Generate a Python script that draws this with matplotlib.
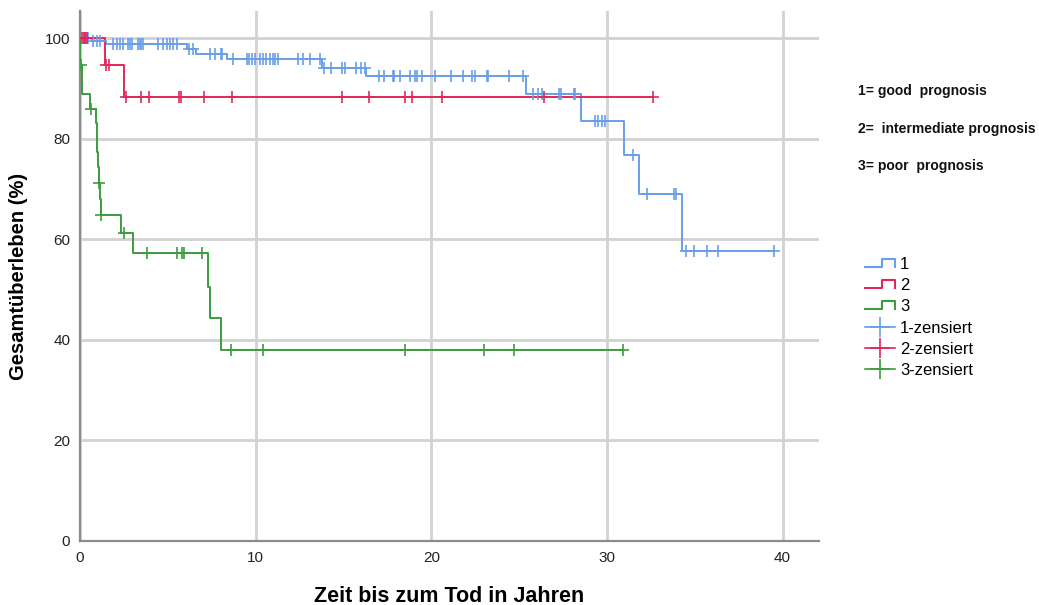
import numpy as np
import matplotlib
matplotlib.use("Agg")
import matplotlib.pyplot as plt
from matplotlib.legend_handler import HandlerBase
from matplotlib.lines import Line2D

# Kaplan-Meier steps (years, survival %) and censored times per prognosis group
good_times = [0, 0.67, 1.5, 6.07, 6.6, 8.35, 13.75, 16.3, 25.4, 28.55, 30.96, 31.8, 34.3]
good_surv = [100, 99.5, 98.8, 97.8, 96.8, 95.8, 94.0, 92.4, 88.9, 83.6, 76.7, 69.1, 57.6]
good_censored = [0.2, 0.35, 0.45, 0.76, 0.95, 1.14,
                 1.9, 2.1, 2.28, 2.46, 2.75, 2.84, 2.94, 3.3, 3.4, 3.5, 3.6,
                 4.46, 4.74, 4.93, 5.12, 5.3, 5.5, 6.2, 6.45, 7.4, 7.7, 8.0, 8.1,
                 8.7, 9.5, 9.63, 9.77, 9.96, 10.24, 10.4, 10.6, 10.8, 11.0, 11.1, 11.3,
                 12.4, 12.7, 13.1, 13.66, 13.9, 14.3, 14.9, 15.1, 15.7, 16.0, 16.2,
                 17.0, 17.3, 17.8, 17.9, 18.2, 18.8, 19.1, 19.2, 19.5, 20.2, 21.1, 21.8,
                 22.3, 22.5, 23.15, 23.25, 24.4, 25.2, 25.8, 26.1, 26.3, 27.3, 27.4,
                 28.1, 28.2, 29.3, 29.5, 29.7, 29.9, 31.5, 32.3, 33.8, 33.95,
                 34.5, 34.95, 35.7, 36.3, 39.5]

mid_times = [0, 1.42, 2.52]
mid_surv = [100, 94.7, 88.3]
mid_censored = [0.1, 0.2, 0.3, 0.4, 1.5, 1.67, 2.6, 3.47, 3.94, 5.65, 5.74, 7.07,
                8.68, 14.9, 16.45, 18.5, 18.9, 20.6, 26.4, 32.6]

poor_times = [0, 0.02, 0.12, 0.55, 0.91, 0.95, 0.99, 1.03, 1.06, 1.13, 1.17,
              2.31, 3.0, 7.3, 7.38, 8.02]
poor_surv = [100, 94.6, 88.9, 86.0, 83.1, 80.2, 77.3, 74.4, 71.2, 68.0, 64.8,
             61.2, 57.2, 50.6, 44.4, 37.9]
poor_censored = [0.08, 0.6, 1.1, 1.2, 2.5, 3.8, 5.5, 5.78, 5.9, 6.96, 8.6, 10.4,
                 18.5, 23.0, 24.7, 30.9]

group_labels = ["1", "2", "3"]
group_notes = ["1= good  prognosis", "2=  intermediate prognosis", "3= poor  prognosis"]
colors = ["#679fe8", "#e0285a", "#3d9c3d"]

plt.rcParams["font.family"] = ["Liberation Sans", "DejaVu Sans"]


class StepHandler(HandlerBase):
    # legend glyph shaped like a small survival step
    def create_artists(self, legend, orig_handle, xdescent, ydescent,
                       width, height, fontsize, trans):
        x0 = -xdescent
        xm = x0 + width * 0.55
        x1 = x0 + width
        y0 = -ydescent + height * 0.15
        y1 = -ydescent + height * 0.85
        line = Line2D([x0, xm, xm, x1, x1], [y0, y0, y1, y1, y0],
                      color=orig_handle.get_color(), lw=1.5)
        line.set_transform(trans)
        return [line]


def km_curve(ax, times, surv, censored, color):
    end = max(max(censored), times[-1])
    xs = list(times) + [end]
    ys = list(surv) + [surv[-1]]
    ax.step(xs, ys, where="post", color=color, lw=1.4, zorder=3)
    idx = np.searchsorted(times, censored, side="right") - 1
    cy = np.asarray(surv)[idx]
    ax.plot(censored, cy, ls="none", marker="+", ms=8, mew=1.2, color=color, zorder=4)


fig = plt.figure(figsize=(10.39, 6.05), dpi=100)
ax = fig.add_axes([0.077, 0.1058, 0.711, 0.876])

km_curve(ax, good_times, good_surv, good_censored, colors[0])
km_curve(ax, mid_times, mid_surv, mid_censored, colors[1])
km_curve(ax, poor_times, poor_surv, poor_censored, colors[2])

ax.set_xlim(0, 42.06)
ax.set_ylim(0, 105.4)
ax.set_xticks([0, 10, 20, 30, 40])
ax.set_yticks([0, 20, 40, 60, 80, 100])
ax.grid(True, color="#d2d2d2", lw=2)
ax.set_axisbelow(True)
for side in ["top", "right"]:
    ax.spines[side].set_visible(False)
for side in ["left", "bottom"]:
    ax.spines[side].set_color("#8c8c8c")
    ax.spines[side].set_linewidth(1.6)
ax.tick_params(length=0, labelsize=11, labelcolor="#222222", pad=7)

ax.set_xlabel("Zeit bis zum Tod in Jahren", fontsize=15.5, fontweight="bold",
              labelpad=15)
ax.set_ylabel("Gesamtüberleben (%)", fontsize=14.5, fontweight="bold", labelpad=12)

# legend: step glyphs for the curves, crosses for censored cases
handles = [Line2D([], [], color=c) for c in colors]
handles += [Line2D([], [], color=c, marker="+", ms=14, mew=1.2, lw=1.2) for c in colors]
labels = group_labels + [g + "-zensiert" for g in group_labels]
handler_map = {h: StepHandler() for h in handles[:3]}
fig.legend(handles, labels, handler_map=handler_map, loc="upper left",
           bbox_to_anchor=(0.8326, 0.576), frameon=False, fontsize=12,
           handlelength=1.8, handletextpad=0.3, labelspacing=0.38,
           borderaxespad=0, borderpad=0)

for i, note in enumerate(group_notes):
    fig.text(0.826, 1 - (91 + i * 37.5) / 605, note, fontsize=10, fontweight="bold",
             va="center", ha="left", color="#111111")

fig.savefig("out.png", dpi=100)
